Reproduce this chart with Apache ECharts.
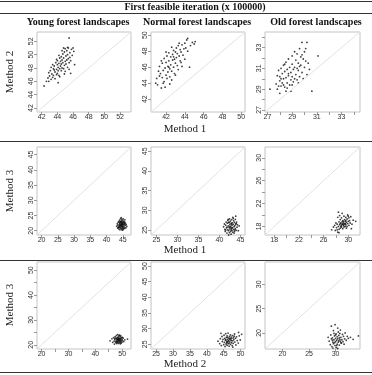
<!DOCTYPE html>
<html><head><meta charset="utf-8">
<script src="https://cdn.jsdelivr.net/npm/echarts@6/dist/echarts.min.js"></script>
<style>html,body{margin:0;padding:0;background:#fff}#c{width:372px;height:375px}</style>
</head><body><div id="c"></div>
<script>
const titleText = 'First feasible iteration (x 100000)';
const columnHeaders = ['Young forest landscapes', 'Normal forest landscapes', 'Old forest landscapes'];
const rowYTitles = ['Method 2', 'Method 3', 'Method 3'];
const rowXTitles = ['Method 1', 'Method 1', 'Method 2'];

const youngM1M2 = [[42.3,45.3],[42.6,46.0],[42.8,46.5],[42.9,47.3],[43.0,46.8],[43.1,47.6],[43.2,46.3],[43.3,47.1],[43.4,46.6],[43.5,47.9],[43.5,46.9],[43.6,48.3],[43.7,47.4],[43.7,46.4],[43.8,48.8],[43.9,47.8],[43.9,47.0],[44.0,48.5],[44.0,49.1],[44.1,47.6],[44.1,48.1],[44.2,46.9],[44.2,48.7],[44.3,49.5],[44.3,47.9],[44.4,48.3],[44.4,49.0],[44.5,47.6],[44.5,48.6],[44.5,49.7],[44.6,48.0],[44.6,49.2],[44.7,48.8],[44.7,50.1],[44.8,47.9],[44.8,49.5],[44.9,48.4],[44.9,50.4],[45.0,49.0],[45.0,47.5],[45.1,49.8],[45.1,48.6],[45.2,50.6],[45.2,49.2],[45.3,48.1],[45.3,50.0],[45.4,49.4],[45.4,51.0],[45.5,52.5],[45.5,48.8],[45.6,50.3],[45.6,49.6],[45.7,47.2],[45.8,50.8],[45.9,49.9],[46.0,51.0],[46.1,50.5],[46.2,48.5],[44.0,47.2],[43.6,47.7],[44.3,46.7],[45.0,50.9],[44.6,50.6],[43.2,48.1],[42.9,46.0],[44.9,47.1],[45.7,49.1],[44.2,49.9],[43.9,49.3],[44.8,51.0],[45.3,51.1],[43.4,48.5],[44.1,45.8],[45.5,47.8]];
const normalM1M2 = [[40.9,44.0],[41.0,44.6],[41.1,43.8],[41.2,45.5],[41.3,44.9],[41.3,46.1],[41.4,45.2],[41.5,43.4],[41.6,44.7],[41.6,46.5],[41.7,45.6],[41.8,44.2],[41.8,47.1],[41.9,45.9],[42.0,46.6],[42.0,45.0],[42.1,47.4],[42.1,44.6],[42.2,46.1],[42.2,45.4],[42.3,47.8],[42.3,46.8],[42.4,45.8],[42.4,44.8],[42.5,47.3],[42.5,46.3],[42.6,48.5],[42.6,45.5],[42.7,46.9],[42.7,47.6],[42.8,46.0],[42.8,48.1],[42.9,47.0],[42.9,45.2],[43.0,47.9],[43.0,46.5],[43.1,48.4],[43.1,47.2],[43.2,46.2],[43.2,47.7],[43.3,48.7],[43.3,45.7],[43.4,47.4],[43.5,48.2],[43.5,46.8],[43.6,47.9],[43.7,48.8],[43.7,46.1],[43.8,47.5],[43.9,48.3],[44.0,49.0],[44.0,47.0],[44.1,48.4],[44.2,49.4],[44.3,49.6],[44.3,48.0],[44.5,46.0],[44.6,48.7],[44.8,49.1],[45.0,48.9],[45.1,49.2],[41.9,43.5],[42.4,43.9],[42.6,44.4],[43.0,45.0],[42.3,46.0],[41.5,46.8],[42.0,47.9],[43.4,49.0],[43.6,46.6],[42.8,47.3],[41.7,44.0]];
const oldM1M2 = [[27.2,29.0],[27.7,29.5],[27.8,30.3],[27.8,29.0],[27.9,30.8],[28.0,29.8],[28.0,30.2],[28.0,28.6],[28.1,29.3],[28.1,31.0],[28.2,30.5],[28.2,29.6],[28.3,30.0],[28.3,31.3],[28.4,29.2],[28.4,30.7],[28.5,28.8],[28.5,31.6],[28.5,30.1],[28.6,29.6],[28.6,30.9],[28.7,30.3],[28.7,31.9],[28.8,29.4],[28.8,31.1],[28.9,30.6],[28.9,29.9],[29.0,32.2],[29.0,30.2],[29.0,31.4],[29.1,29.7],[29.1,30.9],[29.2,32.6],[29.2,31.1],[29.3,30.4],[29.3,31.8],[29.4,29.9],[29.4,32.4],[29.5,30.8],[29.5,31.5],[29.6,32.9],[29.6,30.2],[29.7,31.3],[29.7,32.1],[29.8,33.5],[29.8,30.6],[29.9,31.9],[29.9,30.0],[30.0,32.6],[30.0,31.1],[30.1,31.7],[30.2,33.5],[30.2,30.4],[30.3,31.5],[30.4,30.9],[31.1,32.2],[30.6,28.8],[28.9,28.8],[28.1,30.0],[28.4,31.4],[29.2,30.0],[28.6,29.1],[29.4,31.0],[29.0,29.4],[28.7,30.5],[29.8,32.3],[30.1,32.9],[29.5,29.6],[28.3,29.4],[29.6,31.2],[27.9,29.3]];
const youngM1M3 = [[43.1,21.5],[43.3,22.3],[43.4,20.9],[43.5,21.8],[43.6,22.8],[43.7,21.2],[43.8,23.1],[43.8,20.6],[43.9,22.0],[44.0,21.5],[44.0,23.5],[44.1,22.4],[44.1,20.3],[44.2,21.0],[44.2,22.9],[44.3,21.7],[44.3,24.0],[44.4,22.2],[44.4,20.8],[44.5,23.2],[44.5,21.4],[44.6,22.6],[44.6,20.5],[44.7,21.9],[44.7,23.7],[44.8,22.3],[44.8,21.1],[44.9,22.9],[44.9,20.9],[45.0,21.6],[45.0,23.4],[45.1,22.1],[45.1,20.4],[45.2,22.7],[45.2,21.3],[45.3,23.0],[45.3,21.9],[45.4,20.7],[45.5,22.5],[45.5,21.2],[45.6,23.6],[45.7,21.8],[45.8,22.4],[45.9,20.9],[46.0,22.0],[46.2,21.4],[44.5,22.0],[44.2,21.9],[44.9,22.2],[44.6,21.6],[44.3,22.8],[44.8,20.2],[45.4,22.2],[44.0,22.6],[45.1,23.9],[44.7,22.5],[44.4,23.0],[45.2,20.8],[43.9,21.2],[44.5,24.3],[45.6,22.8],[44.1,21.6],[44.8,21.5],[45.0,22.5],[43.6,21.0]];
const normalM1M3 = [[41.0,25.8],[41.2,26.5],[41.3,25.1],[41.4,24.6],[41.5,26.2],[41.6,27.0],[41.7,25.5],[41.8,24.2],[41.9,26.7],[42.0,25.0],[42.0,27.4],[42.1,26.0],[42.2,24.8],[42.2,26.9],[42.3,25.6],[42.4,27.8],[42.4,24.3],[42.5,26.4],[42.5,25.2],[42.6,27.2],[42.7,25.9],[42.7,24.6],[42.8,26.7],[42.8,23.9],[42.9,25.4],[42.9,27.6],[43.0,26.2],[43.0,24.9],[43.1,26.8],[43.1,25.6],[43.2,28.2],[43.2,24.4],[43.3,26.4],[43.4,25.1],[43.4,27.3],[43.5,25.8],[43.6,26.9],[43.6,24.6],[43.7,26.1],[43.8,27.7],[43.8,25.3],[43.9,26.5],[44.0,24.9],[44.1,27.0],[44.2,25.7],[44.3,26.3],[44.5,24.8],[44.7,26.0],[42.6,25.6],[42.3,26.9],[43.0,25.5],[42.8,25.0],[43.3,27.9],[42.1,27.7],[43.5,24.2],[41.8,25.7],[42.9,26.5],[43.7,25.0],[42.4,25.9],[44.0,26.6],[41.5,25.0],[43.9,28.5],[42.2,23.7]];
const oldM1M3 = [[27.3,17.4],[27.6,17.9],[27.8,18.2],[27.9,17.3],[28.0,18.6],[28.1,17.8],[28.2,18.4],[28.3,17.0],[28.3,19.6],[28.4,18.0],[28.5,18.8],[28.5,17.5],[28.6,18.3],[28.7,19.2],[28.7,17.7],[28.8,18.6],[28.8,18.0],[28.9,19.5],[28.9,17.9],[29.0,18.4],[29.0,18.8],[29.1,17.6],[29.1,19.0],[29.2,18.2],[29.2,18.6],[29.3,19.8],[29.3,17.9],[29.4,18.5],[29.4,19.2],[29.5,18.0],[29.5,18.9],[29.6,19.6],[29.6,18.3],[29.7,18.7],[29.7,17.7],[29.8,19.3],[29.9,18.5],[29.9,20.0],[30.0,18.9],[30.1,19.5],[30.1,18.2],[30.2,19.0],[30.3,18.6],[30.4,19.7],[30.6,18.4],[30.8,19.1],[31.2,18.9],[28.4,20.5],[29.0,20.3],[28.6,19.9],[30.5,17.6],[28.9,18.2],[29.2,18.9],[29.5,18.5],[28.7,18.5],[29.3,18.3],[29.8,18.0],[28.2,17.4],[29.6,19.0],[28.5,16.9],[30.0,19.8],[29.1,18.4]];
const youngM2M3 = [[45.5,21.6],[46.2,22.4],[46.5,21.0],[46.8,22.9],[47.0,21.5],[47.1,20.3],[47.3,22.1],[47.4,23.3],[47.5,21.2],[47.6,22.7],[47.7,20.8],[47.8,21.9],[47.9,23.8],[48.0,22.4],[48.0,20.5],[48.1,21.5],[48.2,23.0],[48.3,22.0],[48.3,20.9],[48.4,24.1],[48.5,21.7],[48.5,22.8],[48.6,21.2],[48.7,23.4],[48.7,20.6],[48.8,22.3],[48.9,21.6],[48.9,23.7],[49.0,22.0],[49.0,20.9],[49.1,22.7],[49.2,21.4],[49.3,23.2],[49.3,20.4],[49.4,22.1],[49.5,21.1],[49.5,23.6],[49.6,22.5],[49.7,21.6],[49.8,22.9],[49.9,21.0],[50.0,22.2],[50.2,21.6],[50.4,22.7],[50.6,21.3],[51.0,22.0],[52.0,22.3],[48.4,22.2],[48.8,21.9],[49.2,22.4],[48.1,22.6],[48.6,21.9],[49.6,20.6],[47.9,21.3],[48.9,22.5],[48.2,21.1],[49.1,23.9],[47.2,22.6],[50.1,23.0],[48.6,22.5],[49.4,21.7]];
const normalM2M3 = [[43.3,26.0],[43.8,25.2],[44.0,26.8],[44.3,24.6],[44.5,27.5],[44.6,25.9],[44.8,26.6],[45.0,24.9],[45.1,27.9],[45.2,25.6],[45.3,26.9],[45.4,24.3],[45.5,26.3],[45.6,28.4],[45.7,25.1],[45.8,27.2],[45.9,26.0],[46.0,24.7],[46.0,27.7],[46.1,25.6],[46.2,26.6],[46.3,28.6],[46.4,25.2],[46.5,27.0],[46.5,26.2],[46.6,24.4],[46.7,27.5],[46.8,25.8],[46.9,26.8],[47.0,25.0],[47.0,28.0],[47.1,26.4],[47.2,27.3],[47.3,25.5],[47.4,26.9],[47.5,24.6],[47.6,27.8],[47.7,26.1],[47.8,25.3],[47.9,27.1],[48.0,26.5],[48.2,28.3],[48.3,25.7],[48.5,26.9],[48.6,24.8],[48.8,27.4],[49.0,26.2],[49.3,25.4],[49.6,27.7],[49.9,26.4],[50.3,28.2],[46.3,26.0],[46.8,26.7],[45.9,25.5],[47.3,26.2],[46.1,27.2],[47.7,24.1],[45.6,26.5],[48.1,27.6],[46.6,25.4],[44.2,28.5],[49.4,28.8]];
const oldM2M3 = [[28.6,19.1],[28.8,18.3],[29.0,17.6],[29.1,19.6],[29.2,18.8],[29.3,17.2],[29.4,19.0],[29.5,18.1],[29.6,20.5],[29.6,17.8],[29.7,18.6],[29.8,19.4],[29.9,17.4],[30.0,18.9],[30.0,18.2],[30.1,19.8],[30.1,17.0],[30.2,18.5],[30.3,19.2],[30.3,17.7],[30.4,18.8],[30.5,20.2],[30.5,18.1],[30.6,19.5],[30.7,17.5],[30.8,18.7],[30.8,19.9],[30.9,18.3],[31.0,19.1],[31.1,17.9],[31.2,18.6],[31.3,19.7],[31.4,18.2],[31.5,19.3],[31.7,18.8],[31.8,20.0],[32.0,18.5],[32.2,19.3],[32.4,18.9],[32.8,19.1],[33.3,18.7],[34.3,19.4],[29.2,21.4],[29.9,21.7],[30.4,21.0],[29.8,18.0],[30.2,17.4],[30.6,18.4],[30.0,19.6],[29.5,16.9],[30.9,20.6],[31.6,17.7],[29.4,18.5],[30.7,19.0],[31.0,18.0],[29.7,19.9],[30.4,16.8]];

const panelData = [youngM1M2, normalM1M2, oldM1M2, youngM1M3, normalM1M3, oldM1M3, youngM2M3, normalM2M3, oldM2M3];
// axis limits (same for x and y in each panel)
const panelLimits = [[41.4,53.4],[40.4,50.4],[26.8,34.5],[18.6,47.5],[23.7,46.1],[16.5,31.9],[18.3,53.3],[23.5,51.3],[16.7,34.6]];
const panelTicks = [[42,44,46,48,50,52],[42,44,46,48,50],[27,28,29,30,31,32,33,34],[20,25,30,35,40,45],[25,30,35,40,45],[18,20,22,24,26,28,30],[20,25,30,35,40,45,50],[25,30,35,40,45,50],[20,25,30]];
const panelLabels = [[42,44,46,48,50,52],[42,44,46,48,50],[27,29,31,33],[20,25,30,35,40,45],[25,30,35,40,45],[18,22,26,30],[20,30,40,50],[25,30,35,40,45,50],[20,25,30]];

const colLeft = [37, 151, 265];
const colWidth = [94, 94, 95];
const rowTop = [32, 147, 262];
const rowHeight = [80, 88, 87];

const grids = [], xAxes = [], yAxes = [], series = [];
const tickLabel = {fontSize: 7, color: '#333', fontFamily: 'Liberation Sans', margin: 2};
for (let i = 0; i < 9; i++) {
  const r = Math.floor(i / 3), c = i % 3;
  const lim = panelLimits[i];
  grids.push({show: true, borderColor: '#c4c4c4', borderWidth: 1, left: colLeft[c], top: rowTop[r], width: colWidth[c], height: rowHeight[r]});
  const common = {
    type: 'value', gridIndex: i, min: lim[0], max: lim[1], splitLine: {show: false},
    axisLine: {show: false},
    axisTick: {show: true, length: 3, lineStyle: {color: '#999'}, customValues: panelTicks[i]},
  };
  xAxes.push(Object.assign({}, common, {axisLabel: Object.assign({}, tickLabel, {customValues: panelLabels[i]})}));
  yAxes.push(Object.assign({}, common, {axisLabel: Object.assign({}, tickLabel, {rotate: 90, customValues: panelLabels[i]})}));
  series.push({type: 'line', xAxisIndex: i, yAxisIndex: i, data: [[lim[0], lim[0]], [lim[1], lim[1]]], symbol: 'none', silent: true, lineStyle: {color: '#e2e2e2', width: 1}, clip: true});
  series.push({type: 'scatter', xAxisIndex: i, yAxisIndex: i, data: panelData[i], symbolSize: 1.8, itemStyle: {color: '#111'}, silent: true});
}

const graphics = [];
const hLines = [1, 13, 141, 260, 372];
hLines.forEach(y => graphics.push({type: 'line', shape: {x1: 0, y1: y + 0.5, x2: 372, y2: y + 0.5}, style: {stroke: '#333', lineWidth: 1}}));
graphics.push({type: 'text', x: 195, y: 7.5, style: {text: titleText, font: 'bold 10px "Liberation Serif"', fill: '#111', align: 'center', verticalAlign: 'middle'}});
const headerX = [78, 197, 316];
columnHeaders.forEach((h, k) => graphics.push({type: 'text', x: headerX[k], y: 22, style: {text: h, font: 'bold 10px "Liberation Serif"', fill: '#111', align: 'center', verticalAlign: 'middle'}}));
const yTitleY = [72, 191, 305];
rowYTitles.forEach((t, k) => graphics.push({type: 'text', x: 10, y: yTitleY[k], rotation: Math.PI / 2, style: {text: t, font: '11px "Liberation Serif"', fill: '#222', align: 'center', verticalAlign: 'middle'}}));
const xTitleY = [129, 250, 364];
rowXTitles.forEach((t, k) => graphics.push({type: 'text', x: 185, y: xTitleY[k], style: {text: t, font: '11px "Liberation Serif"', fill: '#222', align: 'center', verticalAlign: 'middle'}}));

const chart = echarts.init(document.getElementById('c'), null, {renderer: 'canvas'});
chart.setOption({animation: false, grid: grids, xAxis: xAxes, yAxis: yAxes, series: series, graphic: graphics});
</script></body></html>
